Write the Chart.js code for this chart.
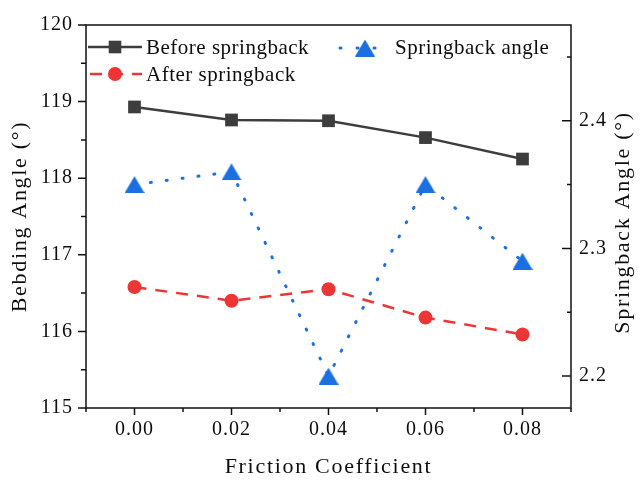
<!DOCTYPE html>
<html>
<head>
<meta charset="utf-8">
<script src="https://cdn.jsdelivr.net/npm/chart.js@4.4.1/dist/chart.umd.min.js"></script>
<style>
html,body{margin:0;padding:0;background:#fff;}
canvas{display:block;}
</style>
</head>
<body>
<canvas id="c" width="642" height="480"></canvas>
<script>
// ---- data ----
const frictionCoefficients = [0.00, 0.02, 0.04, 0.06, 0.08];
const beforeSpringback = [118.93, 118.76, 118.75, 118.53, 118.25];
const afterSpringback = [116.58, 116.40, 116.55, 116.18, 115.96];
const springbackAngle = [2.35, 2.36, 2.20, 2.35, 2.29];
const xTickValues = [0.00, 0.02, 0.04, 0.06, 0.08];
const leftTickValues = [115, 116, 117, 118, 119, 120];
const rightTickValues = [2.2, 2.3, 2.4];
const seriesNames = ['Before springback', 'After springback', 'Springback angle'];

const FONT = 'Liberation Serif';
const TEXT = '#0d0d0d';
const C_BEFORE = '#3d3d3d';
const C_AFTER = '#ee3535';
const C_SPRING = '#1b6fe0';

const canvas = document.getElementById('c');
const ctx0 = canvas.getContext('2d');
// letter spacing per font size (the reference text is set wide)
const fontDesc = Object.getOwnPropertyDescriptor(CanvasRenderingContext2D.prototype, 'font');
Object.defineProperty(ctx0, 'font', {
  configurable: true,
  get() { return fontDesc.get.call(this); },
  set(v) {
    fontDesc.set.call(this, v);
    const m = /(\d+(?:\.\d+)?)px/.exec(v);
    const s = m ? +m[1] : 0;
    this.letterSpacing = s >= 22 ? '1.7px' : (s >= 19 ? '1px' : '0px');
  }
});

// triangle marker centred on its bounding box
function makeTriangle(w, h, color) {
  const c = document.createElement('canvas');
  c.width = w; c.height = h;
  const t = c.getContext('2d');
  t.fillStyle = color;
  t.beginPath();
  t.moveTo(w / 2, 0);
  t.lineTo(w, h);
  t.lineTo(0, h);
  t.closePath();
  t.fill();
  return c;
}
const triImg = makeTriangle(20, 17, C_SPRING);

function pts(xs, ys) { return xs.map((x, i) => ({x: x, y: ys[i]})); }

function minorsOf(majors, min, max) {
  const step = majors[1] - majors[0];
  const out = [];
  const first = majors[0] - step / 2;
  for (let i = 0; i <= majors.length; i++) {
    const v = first + i * step;
    if (v >= min - 1e-9 && v <= max + 1e-9) out.push(v);
  }
  return out;
}

const tickFont = {family: FONT, size: 20};
const titleFont = {family: FONT, size: 22};
const noGrid = {display: false, drawTicks: false, tickLength: 0};

const axesPlugin = {
  id: 'axesPlugin',
  afterDatasetsDraw(chart) {
    const {ctx, chartArea: a, scales} = chart;
    const x = scales.x, y = scales.y, y2 = scales.y2;
    ctx.save();
    ctx.strokeStyle = '#111';
    ctx.lineWidth = 1.5;
    ctx.strokeRect(a.left, a.top, a.right - a.left, a.bottom - a.top);
    ctx.beginPath();
    // left ticks (outward)
    leftTickValues.forEach(v => { const p = y.getPixelForValue(v); ctx.moveTo(a.left - 8, p); ctx.lineTo(a.left, p); });
    minorsOf(leftTickValues, y.min, y.max).forEach(v => { const p = y.getPixelForValue(v); ctx.moveTo(a.left - 5, p); ctx.lineTo(a.left, p); });
    // bottom ticks (outward)
    xTickValues.forEach(v => { const p = x.getPixelForValue(v); ctx.moveTo(p, a.bottom); ctx.lineTo(p, a.bottom + 7); });
    minorsOf(xTickValues, x.min, x.max).forEach(v => { const p = x.getPixelForValue(v); ctx.moveTo(p, a.bottom); ctx.lineTo(p, a.bottom + 4); });
    // right ticks (inward)
    rightTickValues.forEach(v => { const p = y2.getPixelForValue(v); ctx.moveTo(a.right - 9, p); ctx.lineTo(a.right, p); });
    minorsOf(rightTickValues, y2.min, y2.max).forEach(v => { const p = y2.getPixelForValue(v); ctx.moveTo(a.right - 4, p); ctx.lineTo(a.right, p); });
    ctx.stroke();
    ctx.restore();
  },
  afterDraw(chart) {
    const {ctx, chartArea: a, scales} = chart;
    // right axis title, reading bottom to top
    ctx.save();
    ctx.translate(scales.y2.right - 19, (a.top + a.bottom) / 2 + 6);
    ctx.rotate(-Math.PI / 2);
    ctx.font = '22px "' + FONT + '"';
    ctx.fillStyle = TEXT;
    ctx.textAlign = 'center';
    ctx.textBaseline = 'middle';
    ctx.fillText('Springback Angle (°)', 0, 0);
    ctx.restore();

    // legend
    ctx.save();
    const r1 = a.top + 22, r2 = a.top + 49;
    const lx0 = a.left + 2, lx1 = a.left + 56, lxm = (lx0 + lx1) / 2;
    // before
    ctx.strokeStyle = C_BEFORE; ctx.lineWidth = 2.5;
    ctx.beginPath(); ctx.moveTo(lx0, r1); ctx.lineTo(lx1, r1); ctx.stroke();
    ctx.fillStyle = C_BEFORE; ctx.fillRect(lxm - 6.3, r1 - 6.3, 12.6, 12.6);
    // after
    ctx.strokeStyle = C_AFTER; ctx.setLineDash([12, 9]);
    ctx.beginPath(); ctx.moveTo(lx0 + 2, r2); ctx.lineTo(lx1, r2); ctx.stroke();
    ctx.setLineDash([]);
    ctx.fillStyle = C_AFTER; ctx.beginPath(); ctx.arc(lxm, r2, 7, 0, Math.PI * 2); ctx.fill();
    // springback
    const sx0 = a.left + 254, sx1 = a.left + 304, sxm = a.left + 279;
    ctx.strokeStyle = C_SPRING; ctx.lineWidth = 3; ctx.lineCap = 'round'; ctx.setLineDash([1, 16]);
    ctx.beginPath(); ctx.moveTo(sx0, r1 + 1); ctx.lineTo(sx1, r1 + 1); ctx.stroke();
    ctx.setLineDash([]);
    ctx.drawImage(triImg, sxm - triImg.width / 2, r1 + 1 - triImg.height / 2);
    // texts
    ctx.font = '21px "' + FONT + '"';
    ctx.letterSpacing = '0.5px';
    ctx.fillStyle = TEXT;
    ctx.textAlign = 'left';
    ctx.textBaseline = 'middle';
    ctx.fillText(seriesNames[0], lx1 + 4, r1 + 1);
    ctx.fillText(seriesNames[1], lx1 + 4, r2 + 1);
    ctx.fillText(seriesNames[2], sx1 + 5, r1 + 1);
    ctx.restore();
  }
};

new Chart(ctx0, {
  type: 'line',
  data: {
    datasets: [
      {
        label: seriesNames[0],
        data: pts(frictionCoefficients, beforeSpringback),
        yAxisID: 'y',
        borderColor: C_BEFORE, backgroundColor: C_BEFORE,
        borderWidth: 2.5,
        pointStyle: 'rect', pointRadius: 9, pointBorderWidth: 0,
        tension: 0
      },
      {
        label: seriesNames[1],
        data: pts(frictionCoefficients, afterSpringback),
        yAxisID: 'y',
        borderColor: C_AFTER, backgroundColor: C_AFTER,
        borderWidth: 2.5, borderDash: [12, 9],
        pointStyle: 'circle', pointRadius: 7, pointBorderWidth: 0,
        tension: 0
      },
      {
        label: seriesNames[2],
        data: pts(frictionCoefficients, springbackAngle),
        yAxisID: 'y2',
        borderColor: C_SPRING, backgroundColor: C_SPRING,
        borderWidth: 3, borderDash: [1, 15], borderCapStyle: 'round',
        pointStyle: triImg, pointRadius: 10, pointBorderWidth: 0,
        tension: 0
      }
    ]
  },
  options: {
    responsive: false,
    animation: false,
    devicePixelRatio: 1,
    layout: {padding: {top: 19, left: 0, right: 0, bottom: 0}, autoPadding: false},
    plugins: {legend: {display: false}, tooltip: {enabled: false}},
    scales: {
      x: {
        type: 'linear', position: 'bottom', min: -0.01, max: 0.09,
        grid: noGrid, border: {display: false},
        afterBuildTicks: s => { s.ticks = xTickValues.map(v => ({value: v})); },
        afterFit: s => { s.height = 72; },
        ticks: {font: tickFont, color: TEXT, padding: 10, maxRotation: 0, autoSkip: false,
          callback: v => Number(v).toFixed(2)},
        title: {display: true, text: 'Friction Coefficient', font: titleFont, color: TEXT, padding: {top: 0, bottom: 0}}
      },
      y: {
        type: 'linear', position: 'left', min: 115, max: 120,
        grid: noGrid, border: {display: false},
        afterBuildTicks: s => { s.ticks = leftTickValues.map(v => ({value: v})); },
        afterFit: s => { s.width = 86; },
        ticks: {font: tickFont, color: TEXT, padding: 13, callback: v => String(v)},
        title: {display: true, text: 'Bebding Angle (°)', font: titleFont, color: TEXT, padding: {top: 7, bottom: 0}}
      },
      y2: {
        type: 'linear', position: 'right', min: 2.175, max: 2.475,
        grid: noGrid, border: {display: false},
        afterBuildTicks: s => { s.ticks = rightTickValues.map(v => ({value: v})); },
        afterFit: s => { s.width = 71; },
        ticks: {font: tickFont, color: TEXT, padding: 8, callback: v => Number(v).toFixed(1)},
        title: {display: false}
      }
    }
  },
  plugins: [axesPlugin]
});
</script>
</body>
</html>
